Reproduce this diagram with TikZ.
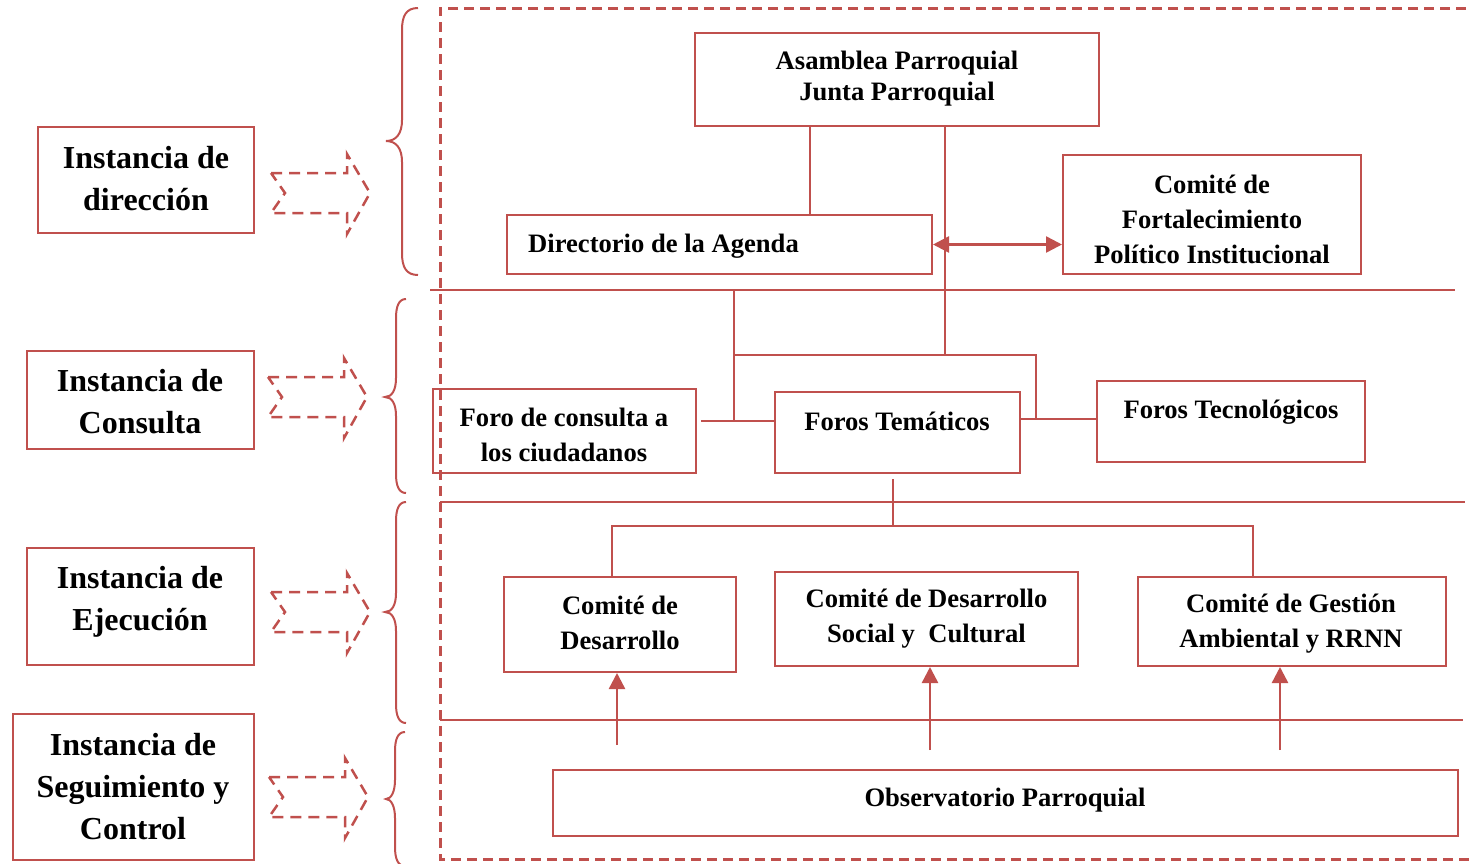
\documentclass[tikz,border=0pt]{standalone}
\usepackage{fontspec}
\setmainfont{Liberation Serif}
\usetikzlibrary{arrows.meta}
\definecolor{rd}{HTML}{C0504D}
\newcommand\hollowarrow[2]{\draw[hollow] (#1,#2) ++(0,-20) -- ++(76,0) -- ++(0,-19) -- ++(23,39) -- ++(-23,41) -- ++(0,-21) -- ++(-76,0) -- ++(14,-20) -- cycle;}
\begin{document}
\begin{tikzpicture}[x=1pt,y=-1pt,
 box/.style={draw=rd, line width=2pt, rectangle, inner sep=0pt},
 txt/.style={font=\fontsize{26.6}{35}\selectfont\bfseries, align=center, inner sep=0pt, text=black},
 lbl/.style={font=\fontsize{32}{42}\selectfont\bfseries, align=center, inner sep=0pt, text=black},
 ln/.style={draw=rd, line width=2pt},
 arr/.style={draw=rd, line width=2.5pt, -{Triangle[length=16pt,width=16pt]}},
 darr/.style={draw=rd, line width=2.5pt, {Triangle[length=16pt,width=16pt]}-{Triangle[length=16pt,width=16pt]}},
 hollow/.style={draw=rd, line width=2.5pt, dash pattern=on 11pt off 7pt},
 brc/.style={draw=rd, line width=2pt},
 outer/.style={draw=rd, line width=3pt, dash pattern=on 10pt off 6pt}]
\useasboundingbox (0,0) rectangle (1472,863);

% outer dashed frame
\draw[outer] (1466,8) -- (440,8) -- (440,859) -- (1472,859);

% separators
\coordinate (s1a) at (430,290); \coordinate (s1b) at (1455,290);
\coordinate (s2a) at (440,502); \coordinate (s2b) at (1465,502);
\coordinate (s3a) at (440,720); \coordinate (s3b) at (1463,720);
\draw[ln] (s1a) -- (s1b);
\draw[ln] (s2a) -- (s2b);
\draw[ln] (s3a) -- (s3b);

% left labels
\node[box, minimum width=216, minimum height=106] (l1) at (146,180) {};
\node[lbl] (l1t) at (146,179) {Instancia de\\dirección};
\node[box, minimum width=227, minimum height=98] (l2) at (140.5,400) {};
\node[lbl] (l2t) at (140,402) {Instancia de\\Consulta};
\node[box, minimum width=227, minimum height=117] (l3) at (140.5,606.5) {};
\node[lbl] (l3t) at (140,602) {Instancia de\\Ejecución};
\node[box, minimum width=241, minimum height=146] (l4) at (133.5,787) {};
\node[lbl] (l4t) at (133,787) {Instancia de\\Seguimiento y\\Control};

% hollow dashed arrows
\hollowarrow{271}{193}
\hollowarrow{268}{397}
\hollowarrow{271}{612}
\hollowarrow{269}{797}

% braces
\draw[brc] (418,8) .. controls (406,8) and (402,16) .. (402,30) -- (402,120) .. controls (402,134) and (396,141) .. (386,141) .. controls (396,141) and (402,148) .. (402,162) -- (402,253) .. controls (402,267) and (406,275) .. (418,275);
\draw[brc] (406,299) .. controls (399,299) and (396,306) .. (396,318) -- (396,378) .. controls (396,390) and (392,397) .. (385,397) .. controls (392,397) and (396,404) .. (396,416) -- (396,474) .. controls (396,486) and (399,493) .. (406,493);
\draw[brc] (406,502) .. controls (399,502) and (396,509) .. (396,521) -- (396,593) .. controls (396,605) and (392,612) .. (385,612) .. controls (392,612) and (396,619) .. (396,631) -- (396,704) .. controls (396,716) and (399,723) .. (406,723);
\draw[brc] (405,732) .. controls (398,732) and (395,739) .. (395,751) -- (395,780) .. controls (395,792) and (391,799) .. (386,799) .. controls (391,799) and (395,806) .. (395,818) -- (395,847) .. controls (395,859) and (398,866) .. (405,866);

% boxes
\node[box, minimum width=404, minimum height=93] (asm) at (897,79.5) {};
\node[txt, font=\fontsize{26.6}{31}\selectfont\bfseries] (asmt) at (897,79) {Asamblea Parroquial\\Junta Parroquial};
\node[box, minimum width=425, minimum height=59] (dir) at (719.5,244.5) {};
\node[txt, anchor=west] (dirt) at (528,246) {Directorio de la Agenda};
\node[box, minimum width=298, minimum height=119] (fort) at (1212,214.5) {};
\node[txt] (fortt) at (1212,219) {Comité de\\Fortalecimiento\\Político Institucional};
\node[box, minimum width=263, minimum height=84] (foro) at (564.5,431) {};
\node[txt] (forot) at (564,435) {Foro de consulta a\\los ciudadanos};
\node[box, minimum width=245, minimum height=81] (tem) at (897.5,432.5) {};
\node[txt] (temt) at (897,421) {Foros Temáticos};
\node[box, minimum width=268, minimum height=81] (tec) at (1231,421.5) {};
\node[txt] (tect) at (1231,412) {Foros Tecnológicos};
\node[box, minimum width=232, minimum height=95] (cd) at (620,624.5) {};
\node[txt] (cdt) at (620,622.5) {Comité de\\Desarrollo};
\node[box, minimum width=303, minimum height=94] (cs) at (926.5,619) {};
\node[txt] (cst) at (926.5,619) {Comité de Desarrollo\\Social y\ \ Cultural};
\node[box, minimum width=308, minimum height=89] (cg) at (1292,621.5) {};
\node[txt] (cgt) at (1291,624) {Comité de Gestión\\Ambiental y RRNN};
\node[box, minimum width=905, minimum height=66] (obs) at (1005.5,803) {};
\node[txt] (obst) at (1005,800) {Observatorio Parroquial};

% helper coordinates
\coordinate (xa) at (810,0);
\coordinate (xb) at (945,0);
\coordinate (xc) at (734,0);
\coordinate (xd) at (1036,0);
\coordinate (xe) at (893,0);
\coordinate (xf) at (612,0);
\coordinate (xg) at (1253,0);
\coordinate (xh) at (617,0);
\coordinate (xi) at (930,0);
\coordinate (xj) at (1280,0);
\coordinate (ya) at (0,355);
\coordinate (ym) at (0,421);
\coordinate (yt) at (0,419);
\coordinate (yb) at (0,526);
\coordinate (yc) at (0,745);
\coordinate (yd) at (0,750);

% connectors
\draw[ln] (asm.south -| xa) -- (dir.north -| xa);
\draw[ln] (asm.south -| xb) -- (xb |- ya);
\draw[darr] (dir.east) -- (fort.west |- dir.east);
\draw[ln] (xc |- ya) -- (xd |- ya) -- (xd |- yt);
\draw[ln] (xc |- s1a) -- (xc |- ym);
\draw[ln] (foro.east |- ym) ++(4,0) -- (tem.west |- ym);
\draw[ln] (tem.east |- yt) -- (tec.west |- yt);
\draw[ln] (tem.south -| xe) ++(0,5) -- (xe |- yb);
\draw[ln] (cd.north -| xf) -- (xf |- yb) -- (xg |- yb) -- (cg.north -| xg);
\draw[arr] (xh |- yc) -- (cd.south -| xh);
\draw[arr] (xi |- yd) -- (cs.south -| xi);
\draw[arr] (xj |- yd) -- (cg.south -| xj);
\end{tikzpicture}
\end{document}
